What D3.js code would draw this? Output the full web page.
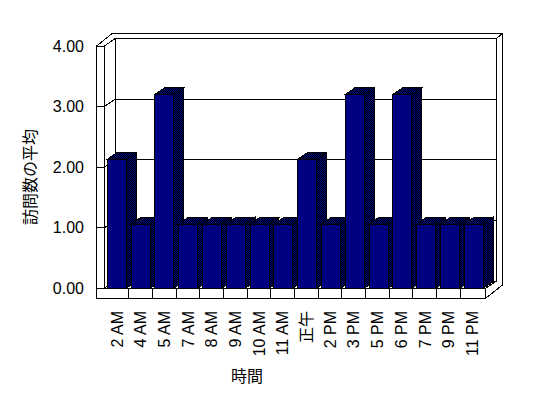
<!DOCTYPE html>
<html>
<head>
<meta charset="utf-8">
<script src="https://cdn.jsdelivr.net/npm/d3@7"></script>
<style>
  body { margin: 0; background: #fff; }
  text { font-family: "Liberation Sans", Arial, "Noto Sans CJK JP", sans-serif; fill: #000; }
</style>
</head>
<body>
<div class="chartDiv"></div>
<script>
"use strict";

// Data:
var categories = ["2 AM", "4 AM", "5 AM", "7 AM", "8 AM", "9 AM", "10 AM", "11 AM",
                  "正午", "2 PM", "3 PM", "5 PM", "6 PM", "7 PM", "9 PM", "11 PM"];
var visits = [2.13, 1.06, 3.2, 1.06, 1.06, 1.06, 1.06, 1.06,
              2.13, 1.06, 3.2, 1.06, 3.2, 1.06, 1.06, 1.06];
var yTicks = [0, 1, 2, 3, 4];
var yTitle = "訪問数の平均";
var xTitle = "時間";

// Layout:
var width = 548, height = 398;
var wallLeft = 96.7, plotLeft = 104.3, plotRight = 485.7;
var floorH = 10;
var depthX = 10.7, depthY = -7.3;      // walls
var barDX = 9.7, barDY = -6.7;         // bars
var backThick = { x: 6, y: -5.4 };

var navy = "#000080";

var y = d3.scaleLinear().domain([0, 4]).range([288.3, 46]);
var xCat = d3.scaleBand().domain(categories).range([105, 484]);
var xBar = d3.scaleBand().domain(categories).range([107.3, 483.3])
             .paddingInner(0.2).paddingOuter(0);

var svg = d3.select(".chartDiv").append("svg")
            .attr("width", width)
            .attr("height", height)
            .attr("shape-rendering", "crispEdges");

// dithered pattern for side / top faces
var pat = svg.append("defs").append("pattern")
             .attr("id", "dither")
             .attr("width", 2).attr("height", 2)
             .attr("patternUnits", "userSpaceOnUse");
pat.append("rect").attr("width", 2).attr("height", 2).attr("fill", navy);
pat.append("rect").attr("width", 1).attr("height", 1).attr("fill", "#000");
pat.append("rect").attr("x", 1).attr("y", 1).attr("width", 1).attr("height", 1).attr("fill", "#000");

var line = d3.line();
var y0 = y(0), yTop = y(4);
var backL = plotLeft + depthX, backR = plotRight + depthX;

var g = svg.append("g")
           .attr("fill", "none")
           .attr("stroke", "#000")
           .attr("stroke-width", 1);

// back wall gridlines
g.selectAll(".grid").data(yTicks).enter()
 .append("path")
 .attr("class", "grid")
 .attr("d", function(d) { return line([[backL, y(d) + depthY], [backR, y(d) + depthY]]); });

// left wall gridlines (front face + inner face)
g.selectAll(".lgrid").data(yTicks).enter()
 .append("path")
 .attr("class", "lgrid")
 .attr("d", function(d) { return line([[wallLeft, y(d)], [plotLeft, y(d)], [backL, y(d) + depthY]]); });

// inner back wall edges
g.append("path").attr("d", line([[backL, yTop + depthY], [backL, y0 + depthY]]));
g.append("path").attr("d", line([[backR, yTop + depthY], [backR, y0 + depthY], [plotRight, y0]]));
g.append("path").attr("d", line([[backR, yTop + depthY], [backR + backThick.x, yTop + depthY + backThick.y]]));

// outer silhouette
g.append("path").attr("d", line([
    [wallLeft, yTop],
    [backL - (plotLeft - wallLeft) * 0.45 + 0.7, yTop + depthY + backThick.y],
    [backR + backThick.x, yTop + depthY + backThick.y],
    [backR + backThick.x, y0 + depthY + 4],
    [plotRight, y0 + floorH]
]));

// left wall front face + floor front face
g.append("path").attr("d", line([
    [wallLeft, yTop], [plotLeft, yTop], [plotLeft, y0], [plotRight, y0],
    [plotRight, y0 + floorH], [wallLeft, y0 + floorH]
]) + "Z");

// category separators on floor front
g.selectAll(".sep").data(categories.slice(1)).enter()
 .append("path")
 .attr("class", "sep")
 .attr("d", function(d) { return line([[xCat(d), y0], [xCat(d), y0 + floorH]]); });

// bars, left to right
var bars = svg.append("g").selectAll(".bar")
              .data(categories).enter()
              .append("g")
              .attr("class", "bar")
              .attr("stroke", "#000")
              .attr("stroke-width", 1);

bars.each(function(c, i) {
    var b = d3.select(this);
    var x0 = xBar(c), x1 = x0 + xBar.bandwidth();
    var yt = y(visits[i]);

    b.append("path")
     .attr("fill", "url(#dither)")
     .attr("d", line([[x1, yt], [x1 + barDX, yt + barDY], [x1 + barDX, y0 + barDY], [x1, y0]]) + "Z");
    b.append("path")
     .attr("fill", "url(#dither)")
     .attr("d", line([[x0, yt], [x0 + barDX, yt + barDY], [x1 + barDX, yt + barDY], [x1, yt]]) + "Z");
    b.append("rect")
     .attr("fill", navy)
     .attr("x", x0).attr("y", yt)
     .attr("width", x1 - x0).attr("height", y0 - yt);
});

// y tick labels
svg.append("g").selectAll(".ylab")
   .data(yTicks).enter()
   .append("text")
   .attr("x", 84)
   .attr("y", function(d) { return y(d); })
   .attr("dy", "0.36em")
   .attr("text-anchor", "end")
   .style("font-size", "16px")
   .text(function(d) { return d3.format(".2f")(d); });

// x tick labels (rotated)
svg.append("g").selectAll(".xlab")
   .data(categories).enter()
   .append("text")
   .attr("transform", function(d) { return "translate(" + (xCat(d) + xCat.bandwidth() / 2) + ",311) rotate(-90)"; })
   .attr("dy", "0.36em")
   .attr("text-anchor", "end")
   .style("font-size", "16px")
   .text(function(d) { return d; });

// axis titles
svg.append("text")
   .attr("transform", "translate(30,177) rotate(-90)")
   .attr("dy", "0.36em")
   .attr("text-anchor", "middle")
   .style("font-size", "16px")
   .text(yTitle);

svg.append("text")
   .attr("x", 247)
   .attr("y", 376)
   .attr("dy", "0.36em")
   .attr("text-anchor", "middle")
   .style("font-size", "16px")
   .text(xTitle);
</script>
</body>
</html>
